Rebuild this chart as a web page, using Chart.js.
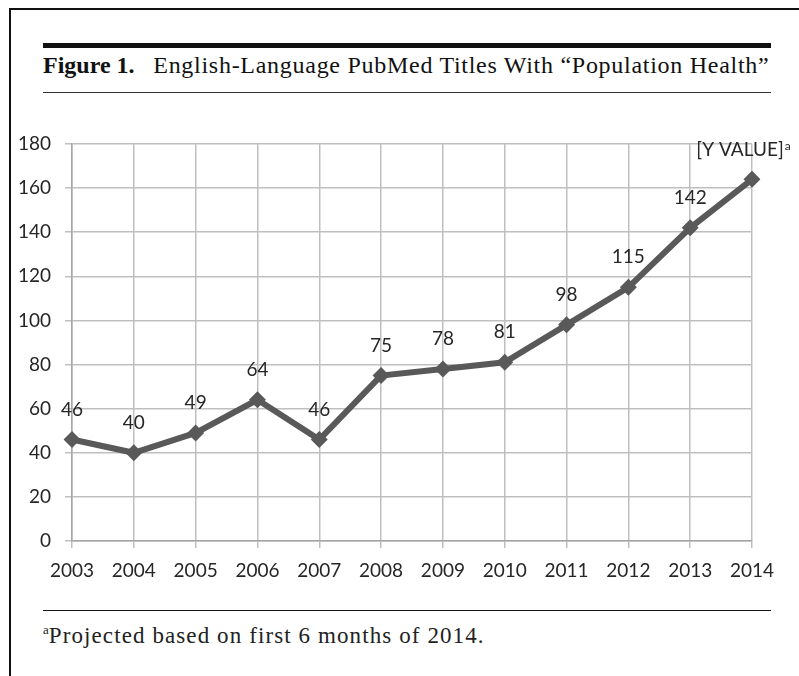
<!DOCTYPE html>
<html>
<head>
<meta charset="utf-8">
<script src="https://cdn.jsdelivr.net/npm/chart.js@4/dist/chart.umd.min.js"></script>
<style>
  html, body { margin: 0; padding: 0; background: #fff; }
  #page { position: relative; width: 799px; height: 676px; overflow: hidden; }
  #frame { position: absolute; left: 9px; top: 8px; width: 820px; height: 720px;
           border-left: 2px solid #111; border-top: 2px solid #111; }
  #rule-top { position: absolute; left: 43px; top: 43px; width: 728px; height: 5px; background: #111; }
  #title { position: absolute; left: 43px; top: 52px; font-family: "Liberation Serif", serif;
           font-size: 24px; letter-spacing: 0.72px; color: #111; white-space: nowrap; }
  #title b { margin-right: 12px; letter-spacing: 0; }
  #rule-mid { position: absolute; left: 43px; top: 92px; width: 728px; height: 1px; background: #333; }
  #rule-foot { position: absolute; left: 43px; top: 610px; width: 728px; height: 1px; background: #111; }
  #foot { position: absolute; left: 43px; top: 622px; font-family: "Liberation Serif", serif;
          font-size: 23px; letter-spacing: 1.1px; color: #222; white-space: nowrap; }
  #foot sup { font-size: 13px; vertical-align: 9px; letter-spacing: 0; }
  #wrap { position: absolute; left: 0; top: 100px; width: 799px; height: 490px; }
</style>
</head>
<body>
<div id="page">
  <div id="frame"></div>
  <div id="rule-top"></div>
  <div id="title"><b>Figure 1.</b> English-Language PubMed Titles With “Population Health”</div>
  <div id="rule-mid"></div>
  <div id="wrap"><canvas id="chart"></canvas></div>
  <div id="rule-foot"></div>
  <div id="foot"><sup>a</sup>Projected based on first 6 months of 2014.</div>
</div>
<script>
const years = ["2003", "2004", "2005", "2006", "2007", "2008", "2009", "2010", "2011", "2012", "2013", "2014"];
const titles = [46, 40, 49, 64, 46, 75, 78, 81, 98, 115, 142, 164];
const pointLabels = ["46", "40", "49", "64", "46", "75", "78", "81", "98", "115", "142", "[Y VALUE]"];
const yTicks = [0, 20, 40, 60, 80, 100, 120, 140, 160, 180];

// value labels above each point
const labelPlugin = {
  id: 'pointLabels',
  afterDatasetsDraw(chart) {
    const ctx = chart.ctx;
    const meta = chart.getDatasetMeta(0);
    ctx.save();
    ctx.fillStyle = '#262626';
    ctx.font = '19px Lato, sans-serif';
    ctx.textAlign = 'center';
    ctx.textBaseline = 'alphabetic';
    meta.data.forEach(function (pt, i) {
      const txt = pointLabels[i];
      if (i === pointLabels.length - 1) {
        const x = pt.x - 12;
        ctx.fillText(txt, x, pt.y - 23);
        const w = ctx.measureText(txt).width;
        ctx.font = '12px Lato, sans-serif';
        ctx.textAlign = 'left';
        ctx.fillText('a', x + w / 2 + 1, pt.y - 29);
      } else {
        ctx.fillText(txt, pt.x, pt.y - 24);
      }
    });
    ctx.restore();
  }
};

new Chart(document.getElementById('chart'), {
  type: 'line',
  data: {
    labels: years,
    datasets: [{
      data: titles,
      borderColor: '#595959',
      backgroundColor: '#595959',
      borderWidth: 6,
      pointStyle: 'rectRot',
      pointRadius: 8.5,
      pointBorderWidth: 0,
      tension: 0
    }]
  },
  options: {
    responsive: true,
    maintainAspectRatio: false,
    animation: false,
    layout: { padding: { top: 44, right: 47, left: 0, bottom: 0 } },
    plugins: { legend: { display: false }, tooltip: { enabled: false } },
    scales: {
      x: {
        offset: false,
        grid: { color: '#bfbfbf', lineWidth: 1.5, tickLength: 7 },
        border: { color: '#a6a6a6', width: 1.5 },
        ticks: { color: '#262626', font: { family: 'Lato', size: 19 }, padding: 11, maxRotation: 0 },
        afterFit: function (s) { s.height = 49; }
      },
      y: {
        min: 0,
        max: 180,
        afterBuildTicks: function (s) { s.ticks = yTicks.map(v => ({ value: v })); },
        grid: { color: '#bfbfbf', lineWidth: 1.5, tickLength: 7 },
        border: { color: '#a6a6a6', width: 1.5 },
        ticks: { color: '#262626', font: { family: 'Lato', size: 19 }, padding: 14 },
        afterFit: function (s) { s.width = 72; }
      }
    }
  },
  plugins: [labelPlugin]
});
</script>
</body>
</html>
